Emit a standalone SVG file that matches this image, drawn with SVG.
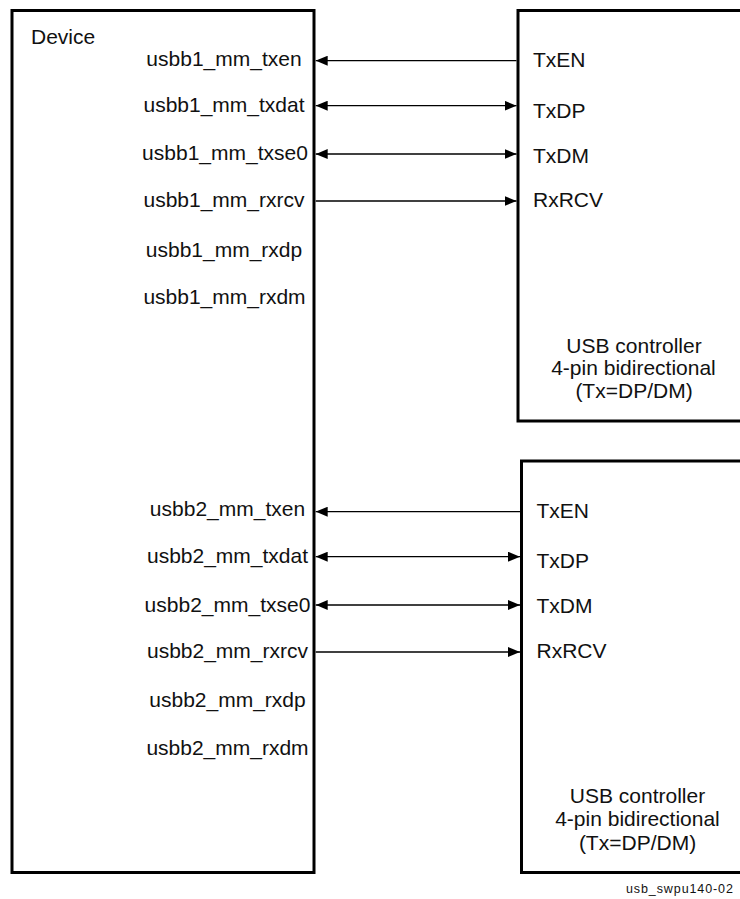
<svg xmlns="http://www.w3.org/2000/svg" width="740" height="899" viewBox="0 0 740 899">
<style>
.box{fill:#fff;stroke:#000;stroke-width:3}
.t{font-family:"Liberation Sans",Arial,sans-serif;font-size:21px;fill:#111}
.m{text-anchor:middle}
.w{stroke:#000;stroke-width:1.3;fill:none}
.foot{font-family:"Liberation Sans",Arial,sans-serif;font-size:12.5px;letter-spacing:0.9px;fill:#111}
</style>
<defs>
<marker id="ah" viewBox="0 0 12 10" refX="12" refY="5" markerWidth="12" markerHeight="10" markerUnits="userSpaceOnUse" orient="auto-start-reverse">
<path d="M0,0 L12,5 L0,10 z" fill="#000"/>
</marker>
</defs>
<rect width="740" height="899" fill="#fff"/>
<g id="device">
<rect class="box" x="12" y="10.5" width="302" height="862"/>
<text class="t" x="31" y="43.5">Device</text>
<text class="t m" x="224" y="66">usbb1_mm_txen</text>
<text class="t m" x="224" y="111.5">usbb1_mm_txdat</text>
<text class="t m" x="225" y="159.5">usbb1_mm_txse0</text>
<text class="t m" x="224" y="207">usbb1_mm_rxrcv</text>
<text class="t m" x="224" y="256.5">usbb1_mm_rxdp</text>
<text class="t m" x="224.5" y="304">usbb1_mm_rxdm</text>
<text class="t m" x="227.5" y="516">usbb2_mm_txen</text>
<text class="t m" x="227.5" y="563">usbb2_mm_txdat</text>
<text class="t m" x="227.5" y="611.5">usbb2_mm_txse0</text>
<text class="t m" x="227.5" y="658">usbb2_mm_rxrcv</text>
<text class="t m" x="227.5" y="706.5">usbb2_mm_rxdp</text>
<text class="t m" x="227.5" y="755">usbb2_mm_rxdm</text>
</g>
<g id="usb-controller-1">
<rect class="box" x="518" y="10.5" width="240" height="410.5"/>
<text class="t" x="533" y="66.5">TxEN</text>
<text class="t" x="533" y="118">TxDP</text>
<text class="t" x="533" y="162.5">TxDM</text>
<text class="t" x="533" y="206.5">RxRCV</text>
<text class="t m" x="634" y="352.5">USB controller</text>
<text class="t m" x="633.5" y="375">4-pin bidirectional</text>
<text class="t m" x="634" y="398">(Tx=DP/DM)</text>
</g>
<g id="usb-controller-2">
<rect class="box" x="521.5" y="461" width="240" height="411.5"/>
<text class="t" x="536.5" y="518">TxEN</text>
<text class="t" x="536.5" y="568">TxDP</text>
<text class="t" x="536.5" y="613">TxDM</text>
<text class="t" x="536.5" y="658">RxRCV</text>
<text class="t m" x="637.5" y="802.5">USB controller</text>
<text class="t m" x="637.5" y="826">4-pin bidirectional</text>
<text class="t m" x="637.5" y="850">(Tx=DP/DM)</text>
</g>
<g id="connectors">
<line class="w" x1="516.5" y1="60.7" x2="315.7" y2="60.7" marker-end="url(#ah)"/>
<line class="w" x1="315.7" y1="105.7" x2="516.5" y2="105.7" marker-start="url(#ah)" marker-end="url(#ah)"/>
<line class="w" x1="315.7" y1="154" x2="516.5" y2="154" marker-start="url(#ah)" marker-end="url(#ah)"/>
<line class="w" x1="315.7" y1="201" x2="516.5" y2="201" marker-end="url(#ah)"/>
<line class="w" x1="520" y1="511.7" x2="315.7" y2="511.7" marker-end="url(#ah)"/>
<line class="w" x1="315.7" y1="556.7" x2="520" y2="556.7" marker-start="url(#ah)" marker-end="url(#ah)"/>
<line class="w" x1="315.7" y1="605" x2="520" y2="605" marker-start="url(#ah)" marker-end="url(#ah)"/>
<line class="w" x1="315.7" y1="652" x2="520" y2="652" marker-end="url(#ah)"/>
</g>
<text class="foot" x="626" y="893">usb_swpu140-02</text>
</svg>
